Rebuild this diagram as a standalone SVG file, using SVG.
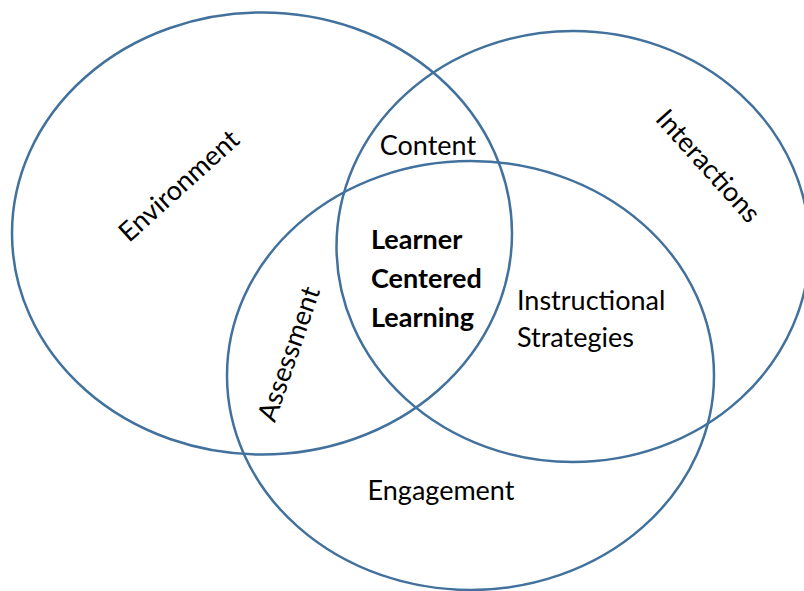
<svg xmlns="http://www.w3.org/2000/svg" width="804" height="591" viewBox="0 0 804 591">
<style>
.ring{fill:none;stroke:#41719c;stroke-width:2.5}
.lbl{font-family:Lato,"Open Sans","Liberation Sans",sans-serif;font-size:27px;fill:#000}
.b{font-weight:bold}
</style>
<rect width="804" height="591" fill="#fff"/>
<g id="environment">
<ellipse class="ring" cx="262" cy="233.5" rx="250" ry="221"/>
<text class="lbl" text-anchor="middle" transform="translate(179,186) rotate(-42)" y="9">Environment</text>
</g>
<g id="interactions">
<ellipse class="ring" cx="573" cy="246.5" rx="236.5" ry="215.5"/>
<text class="lbl" text-anchor="middle" transform="translate(708,166) rotate(48)" y="9">Interactions</text>
</g>
<g id="engagement-ring">
<ellipse class="ring" cx="470.5" cy="375.5" rx="243.5" ry="214.5"/>
</g>
<g id="labels">
<text class="lbl" x="428" y="155" text-anchor="middle">Content</text>
<text class="lbl b" x="371" y="249">Learner</text>
<text class="lbl b" x="371" y="288">Centered</text>
<text class="lbl b" x="371" y="327">Learning</text>
<text class="lbl" x="517" y="310">Instructional</text>
<text class="lbl" x="517" y="347">Strategies</text>
<text class="lbl" x="441" y="500" text-anchor="middle">Engagement</text>
<text class="lbl" text-anchor="middle" transform="translate(289,354) rotate(-71)" y="9">Assessment</text>
</g>
</svg>
